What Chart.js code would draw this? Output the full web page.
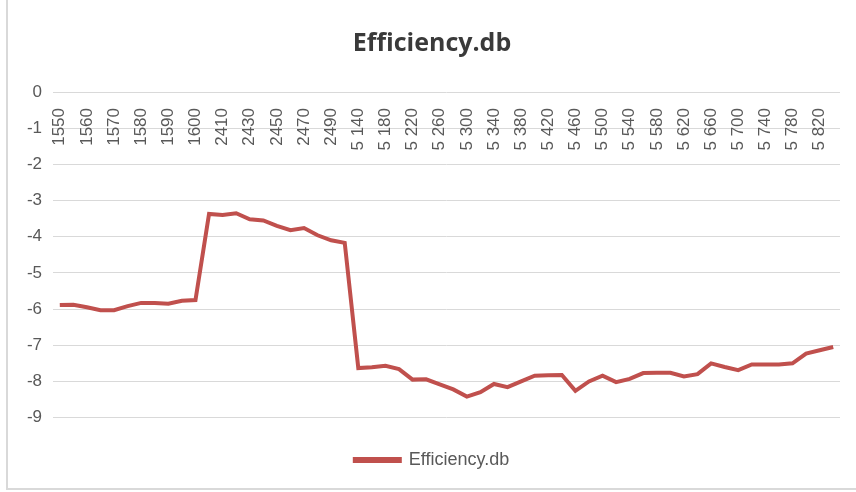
<!DOCTYPE html>
<html>
	<head>
		<meta charset="utf-8">
		<script src="https://cdn.jsdelivr.net/npm/chart.js"></script>
		<title>Efficiency.db</title>
		<style>
			html, body { margin: 0; padding: 0; background: #ffffff; }
			.frame { position: absolute; left: 6px; top: 0; width: 848px; height: 488px;
				border-left: 2px solid #d9d9d9; border-bottom: 2px solid #d9d9d9; }
			.chart { position: absolute; left: 0; top: 0; width: 856px; height: 492px; }
		</style>
	</head>
	<body>
		<div class="frame"></div>
		<div class="chart"><canvas id="chart1"></canvas></div>

<script>

	// frequencies (MHz), one per measurement
	var freq = ['1550', '1555', '1560', '1565', '1570', '1575', '1580', '1585', '1590', '1595', '1600',
		'2400', '2410', '2420', '2430', '2440', '2450', '2460', '2470', '2480', '2490', '2500',
		'5 140', '5 160', '5 180', '5 200', '5 220', '5 240', '5 260', '5 280', '5 300', '5 320',
		'5 340', '5 360', '5 380', '5 400', '5 420', '5 440', '5 460', '5 480', '5 500', '5 520',
		'5 540', '5 560', '5 580', '5 600', '5 620', '5 640', '5 660', '5 680', '5 700', '5 720',
		'5 740', '5 760', '5 780', '5 800', '5 820', '5 840']

	// efficiency in dB
	var eff_db = [-5.89, -5.88, -5.95, -6.03, -6.03, -5.92, -5.83, -5.83, -5.85, -5.77, -5.75,
		-3.37, -3.40, -3.35, -3.52, -3.55, -3.70, -3.82, -3.76, -3.96, -4.10, -4.17,
		-7.63, -7.61, -7.57, -7.66, -7.95, -7.94, -8.08, -8.22, -8.42, -8.30,
		-8.07, -8.16, -8.00, -7.84, -7.83, -7.82, -8.26, -8.00, -7.84, -8.02,
		-7.93, -7.77, -7.76, -7.76, -7.86, -7.80, -7.50, -7.60, -7.69, -7.53,
		-7.53, -7.53, -7.50, -7.23, -7.14, -7.05]

	var y_min = -9
	var y_max = 0

	var red = '#c0504d'
	var grey = '#595959'

	var ctx = document.getElementById('chart1').getContext('2d');

	var chart1 = new Chart(ctx, {
		type: 'line',
		data: {
			labels: freq,
			datasets: [{label: 'Efficiency.db', data: eff_db, borderColor: red, backgroundColor: red,
				borderWidth: 4, pointRadius: 0, tension: 0}]
		},
		options: {
			responsive: true,
			maintainAspectRatio: false,
			animation: false,
			layout: {padding: {left: 24, right: 16, top: 0, bottom: 13}},
			plugins: {
				tooltip: {enabled: false},
				title: {display: true, text: 'Efficiency.db', color: '#3a3a3a',
					font: {family: 'Open Sans', size: 25, weight: 'bold'},
					padding: {top: 29, bottom: 33}},
				legend: {position: 'bottom',
					title: {display: true, text: '', font: {size: 12}, padding: {top: 0, bottom: 9}},
					labels: {boxWidth: 45, boxHeight: 2, padding: 10, color: grey,
						font: {family: 'Liberation Sans', size: 18}}}
			},
			scales: {
				x: {
					position: {y: 0},
					offset: true,
					grid: {display: false},
					border: {display: false},
					ticks: {autoSkip: false, minRotation: 90, maxRotation: 90, padding: 8, color: grey,
						font: {family: 'Liberation Sans', size: 17},
						callback: function(v, i) { return i % 2 === 0 ? freq[i] : ''; }},
					// the labels sit inside the plot, so they need no side room
					afterFit: function(s) { s.paddingLeft = 0; s.paddingRight = 0; }
				},
				y: {
					min: y_min, max: y_max,
					grid: {color: '#d9d9d9', drawTicks: false},
					border: {display: false},
					ticks: {stepSize: 1, padding: 11, color: grey,
						font: {family: 'Liberation Sans', size: 17}},
					afterFit: function(s) { s.width = 29; }
				}
			}
		}
	});

</script>
	</body>
</html>
